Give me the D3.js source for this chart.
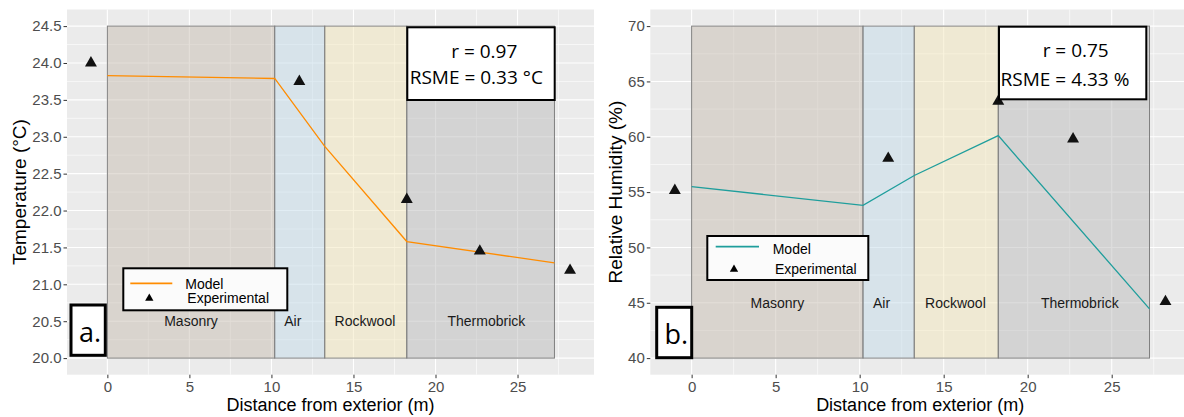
<!DOCTYPE html>
<html>
<head>
<meta charset="utf-8">
<script src="https://cdn.jsdelivr.net/npm/d3@7"></script>
<style>
body{margin:0;background:#fff;}
svg{display:block;}
text{font-family:"Liberation Sans", Arial, sans-serif;}
.note{font-family:"Open Sans", sans-serif;}
</style>
</head>
<body>
<div id="chart"></div>
<script>
// wall layers
var layerNames = ["Masonry", "Air", "Rockwool", "Thermobrick"];
var layerEdges = [0, 10.2, 13.25, 18.25, 27.25];
var layerLabelX = [5.1, 11.3, 15.7, 23.1];
var layerColors = ["#c7bdb1", "#c3dbe9", "#f3e7bb", "#bbbbbb"];

// model line
var modelX = [0, 10.2, 13.25, 18.25, 27.25];
var tempModel = [23.83, 23.79, 22.87, 21.58, 21.29];
var rhModel = [55.5, 53.8, 56.5, 60.1, 44.45];

// experimental points
var expX = [-1, 11.7, 18.25, 22.7, 28.2];
var tempExp = [24.0, 23.75, 22.15, 21.45, 21.19];
var rhExp = [55.15, 58.05, 63.2, 59.8, 45.1];

// ticks
var xTicks = [0, 5, 10, 15, 20, 25];
var tempTicks = [20.0, 20.5, 21.0, 21.5, 22.0, 22.5, 23.0, 23.5, 24.0, 24.5];
var rhTicks = [40, 45, 50, 55, 60, 65, 70];

var svg = d3.select("#chart")
    .append("svg")
    .attr("width", 1184)
    .attr("height", 417);

var panelTop = 9.5, panelBottom = 374.7;

var panels = [
  {left: 67, right: 594, ticks: tempTicks, fmt: d3.format(".1f"), model: tempModel, exp: tempExp,
   color: "#ff8c00", yTitle: "Temperature (°C)", yTitleX: 19, labelY: 20.5,
   stats: ["r = 0.97", "RSME = 0.33 °C"], statsBox: [407.3, 27.3, 147.4, 72.7], statsPos: [[77, 31], [69, 57]],
   legendBox: [123.3, 268.3, 164, 42], legendPos: {line: [7, 49, 15], model: [62, 21], tri: [26, 30], exp: [64, 35]},
   letter: "a.", letterBox: [71, 305, 34.3, 50.3]},
  {left: 650.3, right: 1190, ticks: rhTicks, fmt: d3.format("d"), model: rhModel, exp: rhExp,
   color: "#1f9e9c", yTitle: "Relative Humidity (%)", yTitleX: 615, labelY: 45,
   stats: ["r = 0.75", "RSME = 4.33 %"], statsBox: [999, 26.7, 147.3, 72.6], statsPos: [[76.7, 30.3], [66, 59.3]],
   legendBox: [707.3, 236, 161, 44], legendPos: {line: [8.4, 51.7, 10.7], model: [65.4, 18], tri: [26.7, 33.3], exp: [67.7, 38]},
   letter: "b.", letterBox: [656.7, 307.3, 35, 50.4]}
];

// ggplot style 5% expansion
function expand(ext) {
  var pad = (ext[1] - ext[0]) * 0.05;
  return [ext[0] - pad, ext[1] + pad];
}

panels.forEach(function(p) {
  var x = d3.scaleLinear().domain(expand(d3.extent(expX))).range([p.left, p.right]);
  var y = d3.scaleLinear().domain(expand(d3.extent(p.ticks))).range([panelBottom, panelTop]);
  var step = p.ticks[1] - p.ticks[0];

  var g = svg.append("g");

  // panel background
  g.append("rect")
    .attr("x", p.left).attr("y", panelTop)
    .attr("width", p.right - p.left).attr("height", panelBottom - panelTop)
    .attr("fill", "#ebebeb");

  // minor grid
  var xMinor = d3.range(-2.5, 30, 5).filter(function(v) { return v > x.domain()[0] && v < x.domain()[1]; });
  var yMinor = d3.range(p.ticks[0] - step / 2, p.ticks[p.ticks.length - 1] + step, step)
    .filter(function(v) { return v > y.domain()[0] && v < y.domain()[1]; });
  g.selectAll(".xminor").data(xMinor).enter().append("line")
    .attr("x1", x).attr("x2", x).attr("y1", panelTop).attr("y2", panelBottom)
    .attr("stroke", "#fff").attr("stroke-width", 0.6);
  g.selectAll(".yminor").data(yMinor).enter().append("line")
    .attr("y1", y).attr("y2", y).attr("x1", p.left).attr("x2", p.right)
    .attr("stroke", "#fff").attr("stroke-width", 0.6);

  // major grid
  g.selectAll(".xmajor").data(xTicks).enter().append("line")
    .attr("x1", x).attr("x2", x).attr("y1", panelTop).attr("y2", panelBottom)
    .attr("stroke", "#fff").attr("stroke-width", 1.1);
  g.selectAll(".ymajor").data(p.ticks).enter().append("line")
    .attr("y1", y).attr("y2", y).attr("x1", p.left).attr("x2", p.right)
    .attr("stroke", "#fff").attr("stroke-width", 1.1);

  // layer rectangles
  var yTop = p.ticks[p.ticks.length - 1], yBot = p.ticks[0];
  g.selectAll(".layer").data(layerNames).enter().append("rect")
    .attr("x", function(d, i) { return x(layerEdges[i]); })
    .attr("width", function(d, i) { return x(layerEdges[i + 1]) - x(layerEdges[i]); })
    .attr("y", y(yTop)).attr("height", y(yBot) - y(yTop))
    .attr("fill", function(d, i) { return layerColors[i]; })
    .attr("fill-opacity", 0.5)
    .attr("stroke", "#808080").attr("stroke-width", 1);

  g.selectAll(".layerlabel").data(layerNames).enter().append("text")
    .attr("x", function(d, i) { return x(layerLabelX[i]); })
    .attr("y", y(p.labelY))
    .attr("dy", "0.35em")
    .attr("text-anchor", "middle")
    .attr("font-size", 14)
    .attr("fill", "#1a1a1a")
    .text(function(d) { return d; });

  // model line
  var line = d3.line()
    .x(function(d, i) { return x(modelX[i]); })
    .y(function(d) { return y(d); });
  g.append("path").datum(p.model)
    .attr("d", line)
    .attr("fill", "none")
    .attr("stroke", p.color)
    .attr("stroke-width", 1.3);

  // experimental triangles
  var tri = d3.symbol().type(d3.symbolTriangle).size(62);
  g.selectAll(".exp").data(p.exp).enter().append("path")
    .attr("d", tri)
    .attr("transform", function(d, i) { return "translate(" + x(expX[i]) + "," + y(d) + ")"; })
    .attr("fill", "#111");

  // axes
  var xAxis = g.append("g")
    .attr("transform", "translate(0," + panelBottom + ")")
    .call(d3.axisBottom(x).tickValues(xTicks).tickSize(3.5).tickPadding(3));
  var yAxis = g.append("g")
    .attr("transform", "translate(" + p.left + ",0)")
    .call(d3.axisLeft(y).tickValues(p.ticks).tickFormat(p.fmt).tickSize(3.5).tickPadding(2));
  [xAxis, yAxis].forEach(function(a) {
    a.select(".domain").remove();
    a.selectAll(".tick line").attr("stroke", "#333");
    a.selectAll(".tick text").attr("fill", "#4d4d4d").attr("font-size", 15)
      .attr("font-family", "Liberation Sans, Arial, sans-serif");
  });

  // axis titles
  g.append("text")
    .attr("x", (p.left + p.right) / 2).attr("y", 411)
    .attr("text-anchor", "middle")
    .attr("font-size", 18)
    .attr("fill", "#000")
    .text("Distance from exterior (m)");
  g.append("text")
    .attr("transform", "translate(" + p.yTitleX + "," + (panelTop + panelBottom) / 2 + ") rotate(-90)")
    .attr("dy", "0.35em")
    .attr("text-anchor", "middle")
    .attr("font-size", 19)
    .attr("fill", "#000")
    .text(p.yTitle);

  // legend
  var lb = p.legendBox, lp = p.legendPos;
  var lg = g.append("g").attr("transform", "translate(" + lb[0] + "," + lb[1] + ")");
  lg.append("rect").attr("width", lb[2]).attr("height", lb[3])
    .attr("fill", "#fbfbfb").attr("stroke", "#000").attr("stroke-width", 2);
  lg.append("line").attr("x1", lp.line[0]).attr("x2", lp.line[1]).attr("y1", lp.line[2]).attr("y2", lp.line[2])
    .attr("stroke", p.color).attr("stroke-width", 1.8);
  lg.append("text").attr("x", lp.model[0]).attr("y", lp.model[1]).attr("font-size", 14).text("Model");
  lg.append("path").attr("d", d3.symbol().type(d3.symbolTriangle).size(30))
    .attr("transform", "translate(" + lp.tri[0] + "," + lp.tri[1] + ")").attr("fill", "#000");
  lg.append("text").attr("x", lp.exp[0]).attr("y", lp.exp[1]).attr("font-size", 14).text("Experimental");

  // stats box
  var sb = p.statsBox;
  var sg = g.append("g").attr("transform", "translate(" + sb[0] + "," + sb[1] + ")");
  sg.append("rect").attr("width", sb[2]).attr("height", sb[3])
    .attr("fill", "#fff").attr("stroke", "#000").attr("stroke-width", 2);
  sg.selectAll("text").data(p.stats).enter().append("text")
    .attr("class", "note")
    .attr("x", function(d, i) { return p.statsPos[i][0]; })
    .attr("y", function(d, i) { return p.statsPos[i][1]; })
    .attr("text-anchor", "middle")
    .attr("font-size", 19)
    .attr("fill", "#000")
    .text(function(d) { return d; });

  // panel letter
  var kb = p.letterBox;
  g.append("rect").attr("x", kb[0]).attr("y", kb[1]).attr("width", kb[2]).attr("height", kb[3])
    .attr("fill", "#fff").attr("stroke", "#000").attr("stroke-width", 3);
  g.append("text")
    .attr("class", "note")
    .attr("x", kb[0] + kb[2] / 2 + 2).attr("y", kb[1] + 37)
    .attr("text-anchor", "middle")
    .attr("font-size", 27)
    .attr("fill", "#000")
    .text(p.letter);
});
</script>
</body>
</html>
